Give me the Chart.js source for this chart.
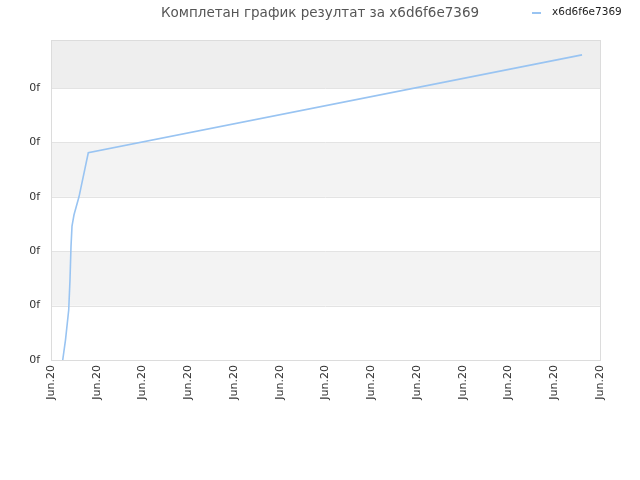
<!DOCTYPE html>
<html>
<head>
<meta charset="utf-8">
<script src="https://cdn.jsdelivr.net/npm/chart.js@4"></script>
<style>
  html, body { margin: 0; padding: 0; background: #ffffff; }
  #wrap { width: 640px; height: 480px; }
</style>
</head>
<body>
<div id="wrap"><canvas id="c" width="640" height="480"></canvas></div>
<script>
const titleText = 'Комплетан график резултат за x6d6f6e7369';
const seriesName = 'x6d6f6e7369';
const xValues = [0.256, 0.317, 0.387, 0.415, 0.437, 0.459, 0.503, 0.612, 0.815, 11.607];
const yValues = [0, 0.37, 0.92, 1.47, 2.08, 2.46, 2.67, 3.0, 3.81, 5.61];
const xTickLabel = 'Jun.20';
const yTickLabel = '0f';
const xMin = 0, xMax = 12;
const yMin = 0, yMax = 5.88;

const lineColor = '#99c4f2';
const fontFamily = '"DejaVu Sans", sans-serif';

const points = xValues.map((x, i) => ({ x: x, y: yValues[i] }));

const bandsPlugin = {
  id: 'bands',
  beforeDatasetsDraw(chart) {
    const { ctx, chartArea } = chart;
    const y = chart.scales.y;
    const ticks = y.ticks.map(t => t.value);
    ctx.save();
    for (let i = 0; i < ticks.length; i++) {
      const v0 = ticks[i];
      const v1 = (i + 1 < ticks.length) ? ticks[i + 1] : y.max;
      if (v1 <= v0) continue;
      if (i % 2 === 1) {
        const top = y.getPixelForValue(v1);
        const bot = y.getPixelForValue(v0);
        ctx.fillStyle = (i === ticks.length - 1) ? '#eeeeee' : '#f3f3f3';
        ctx.fillRect(chartArea.left, top, chartArea.right - chartArea.left, bot - top);
      }
    }
    ctx.strokeStyle = '#e3e3e3';
    ctx.lineWidth = 1;
    ticks.forEach(v => {
      const py = Math.round(y.getPixelForValue(v)) + 0.5;
      ctx.beginPath();
      ctx.moveTo(chartArea.left, py);
      ctx.lineTo(chartArea.right, py);
      ctx.stroke();
    });
    ctx.strokeStyle = '#dcdcdc';
    ctx.strokeRect(Math.round(chartArea.left) + 0.5, Math.round(chartArea.top) + 0.5,
      Math.round(chartArea.right - chartArea.left), Math.round(chartArea.bottom - chartArea.top));
    ctx.restore();
  }
};

const legendPlugin = {
  id: 'manualLegend',
  afterDraw(chart) {
    const { ctx } = chart;
    ctx.save();
    ctx.strokeStyle = lineColor;
    ctx.lineWidth = 2;
    ctx.beginPath();
    ctx.moveTo(532, 13);
    ctx.lineTo(541, 13);
    ctx.stroke();
    ctx.fillStyle = '#222222';
    ctx.font = '10.5px ' + fontFamily;
    ctx.textBaseline = 'middle';
    ctx.textAlign = 'left';
    ctx.fillText(seriesName, 552, 12);
    ctx.restore();
  }
};

new Chart(document.getElementById('c'), {
  type: 'line',
  data: {
    datasets: [{
      label: seriesName,
      data: points,
      borderColor: lineColor,
      backgroundColor: lineColor,
      borderWidth: 1.6,
      pointRadius: 0,
      tension: 0,
      fill: false
    }]
  },
  options: {
    responsive: false,
    animation: false,
    devicePixelRatio: 1,
    layout: { padding: 0 },
    plugins: {
      legend: { display: false },
      tooltip: { enabled: false },
      title: {
        display: true,
        text: titleText,
        color: '#555555',
        font: { family: fontFamily, size: 13.5, weight: 'normal' },
        padding: { top: 5, bottom: 19 }
      }
    },
    scales: {
      x: {
        type: 'linear',
        min: xMin,
        max: xMax,
        afterFit: s => { s.height = 120; },
        grid: { display: false, drawTicks: false },
        border: { display: true, color: '#d6d6d6' },
        ticks: {
          stepSize: 1,
          autoSkip: false,
          maxRotation: 90,
          minRotation: 90,
          padding: 5,
          color: '#333333',
          font: { family: fontFamily, size: 11 },
          callback: () => xTickLabel
        }
      },
      y: {
        type: 'linear',
        min: yMin,
        max: yMax,
        afterFit: s => { s.width = 51; },
        afterBuildTicks: s => { s.ticks = s.ticks.filter(t => Number.isInteger(t.value)); },
        grid: { display: false, drawTicks: false },
        border: { display: true, color: '#d6d6d6' },
        ticks: {
          stepSize: 1,
          padding: 11,
          color: '#333333',
          font: { family: fontFamily, size: 11 },
          callback: () => yTickLabel
        }
      },
      y2: {
        type: 'linear',
        position: 'right',
        display: true,
        afterFit: s => { s.width = 40; },
        grid: { display: false, drawTicks: false },
        border: { display: false },
        ticks: { display: false }
      }
    }
  },
  plugins: [bandsPlugin, legendPlugin]
});
</script>
</body>
</html>
